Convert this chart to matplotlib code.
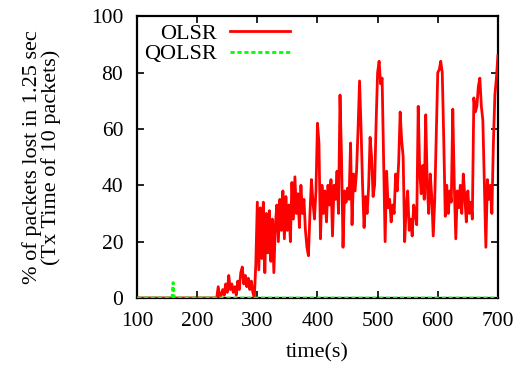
import numpy as np
import matplotlib
matplotlib.use('Agg')
import matplotlib.pyplot as plt

plt.rcParams['font.family'] = ['Liberation Serif', 'DejaVu Serif']

# OLSR loss (%), sampled every 2.5 s from 232.5 s to 700 s; zero before that
olsr_start = 232.5
olsr_step = 2.5
olsr_vals = [
    0, 4, 0.5, 1, 3, 1, 5, 2, 8, 3,          # 232.5 - 255
    5, 2, 4, 1, 6, 3, 9, 11, 5, 8,           # 257.5 - 280
    4, 7, 3, 6, 2, 0, 12, 34, 10, 32,        # 282.5 - 305
    14, 34, 9, 30, 16, 31, 13, 28, 9, 26,    # 307.5 - 330
    33, 20, 35, 24, 38, 21, 36, 24, 33, 20,  # 332.5 - 355
    41, 28, 43, 30, 37, 25, 40, 30, 35, 24,  # 357.5 - 380
    18, 15, 30, 42, 34, 28, 38, 62, 55, 21,  # 382.5 - 405
    40, 30, 38, 27, 40, 33, 42, 22, 40, 35,  # 407.5 - 430
    45, 30, 72, 50, 18, 38, 34, 39, 35, 55,  # 432.5 - 455
    26, 44, 38, 45, 60, 77, 60, 40, 25, 36,  # 457.5 - 480
    30, 39, 57, 50, 36, 40, 62, 80, 84, 76,  # 482.5 - 505
    78, 50, 20, 45, 32, 35, 27, 33, 30, 44,  # 507.5 - 530
    38, 48, 66, 56, 50, 20, 32, 38, 24, 28,  # 532.5 - 555
    22, 33, 30, 26, 68, 45, 37, 47, 35, 65,  # 557.5 - 580
    40, 30, 44, 36, 22, 35, 58, 80, 81, 84,  # 582.5 - 605
    80, 56, 29, 40, 30, 38, 34, 67, 40, 21,  # 607.5 - 630
    38, 32, 40, 30, 44, 36, 27, 38, 30, 34,  # 632.5 - 655
    28, 71, 66, 68, 75, 78, 68, 63, 40, 18,  # 657.5 - 680
    42, 35, 40, 30, 55, 72, 78, 86,          # 682.5 - 700
]

# QOLSR loss (%): flat at zero with one small spike
qolsr_t = [100, 158, 160, 162, 700]
qolsr_vals = [0, 0, 5.5, 0, 0]

xticks = [100, 200, 300, 400, 500, 600, 700]
yticks = [0, 20, 40, 60, 80, 100]

olsr_t = np.concatenate([[100.0], olsr_start + olsr_step * np.arange(len(olsr_vals))])
olsr_y = np.concatenate([[0.0], olsr_vals])

fig = plt.figure(figsize=(5.23, 3.67), dpi=100)
ax = fig.add_axes([0.262, 0.188, 0.690, 0.768])

ax.plot(olsr_t, olsr_y, color='#ff0000', lw=2.0, label='OLSR', zorder=3)
ax.plot(qolsr_t, qolsr_vals, color='#00ff00', lw=2.0, ls=(0, (1.5, 1)), label='QOLSR', zorder=4)

ax.set_xlim(100, 700)
ax.set_ylim(0, 100)
ax.set_xticks(xticks)
ax.set_yticks(yticks)
ax.tick_params(direction='in', length=5, width=1.2, top=True, right=True,
               labelsize=15.5)
ax.tick_params(axis='x', pad=10)
ax.tick_params(axis='y', pad=10)
for s in ax.spines.values():
    s.set_linewidth(1.6)

ax.set_xlabel('time(s)', fontsize=16, labelpad=9)
ax.set_ylabel('% of packets lost in 1.25 sec\n(Tx Time of 10 packets)', fontsize=16,
              linespacing=0.95)
ax.yaxis.set_label_coords(-0.21, 0.5)

leg = ax.legend(loc='upper left', bbox_to_anchor=(0.02, 0.975), frameon=False,
                markerfirst=False, fontsize=16, handlelength=2.7,
                handletextpad=0.6, labelspacing=0.0, borderpad=0, borderaxespad=0)

fig.savefig('out.png', dpi=100)
